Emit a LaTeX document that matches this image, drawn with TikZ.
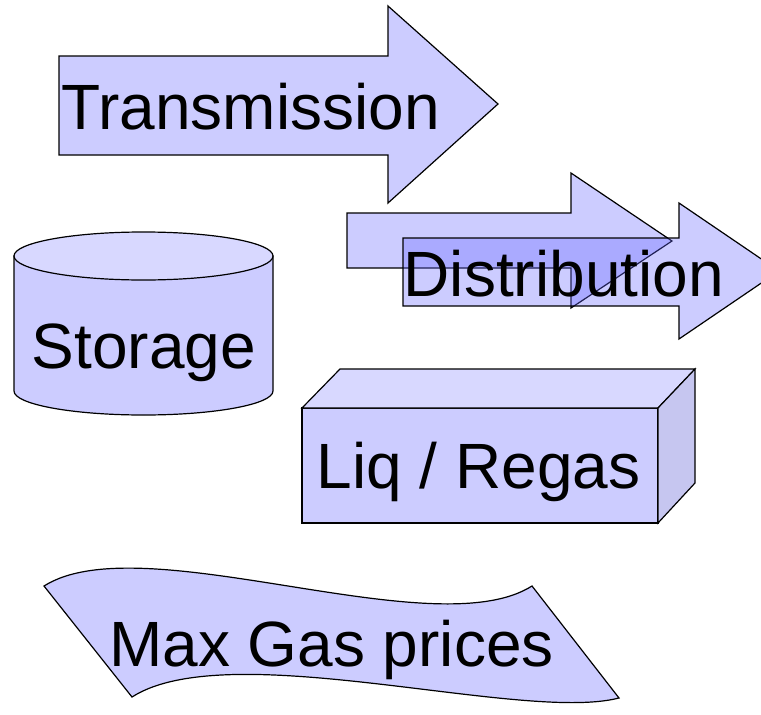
\documentclass[tikz,border=0pt]{standalone}
\usepackage{fontspec}
\setmainfont{Liberation Sans}
\definecolor{shapefill}{RGB}{204,204,255}
\definecolor{toplight}{RGB}{216,216,255}
\definecolor{sidedark}{RGB}{198,198,240}
\definecolor{overfill}{RGB}{102,102,255}
\tikzset{
  shapebox/.style={draw=black, line width=1.2pt, line join=miter, fill=shapefill},
  overbox/.style={draw=black, line width=1.2pt, line join=miter, fill=overfill, fill opacity=0.333},
  label/.style={font=\fontsize{64}{70}\selectfont, anchor=base west, inner sep=0pt, text=black}
}
\begin{document}
\begin{tikzpicture}[x=1pt,y=-1pt]
\useasboundingbox (0,0) rectangle (761,715);
\clip (0,0) rectangle (761,715);
% Transmission arrow
\draw[shapebox] (59,56) -- (388,56) -- (388,6) -- (498,104) -- (388,203) -- (388,155) -- (59,155) -- cycle;
\node[label] (trans) at (61.5,129) {Transmission};
% Distribution arrows
\draw[shapebox] (347,213) -- (571,213) -- (571,173) -- (672,241) -- (571,308) -- (571,268) -- (347,268) -- cycle;
\draw[overbox] (403,238) -- (679,238) -- (679,203) -- (779,271) -- (679,339) -- (679,306) -- (403,306) -- cycle;
\node[label] (dist) at (403.5,296) {Distribution};
% Storage cylinder
\draw[shapebox] (14,256) -- (14,391) arc[start angle=180, end angle=0, x radius=129.5, y radius=24] -- (273,256) -- cycle;
\draw[shapebox, fill=toplight] (143.5,256) ellipse[x radius=129.5, y radius=24];
\node[label] (stor) at (31.5,368) {Storage};
% Liq / Regas box
\draw[shapebox] (302,408) rectangle (658,523);
\draw[shapebox, fill=toplight] (302,408) -- (340,369) -- (695,369) -- (658,408) -- cycle;
\draw[shapebox, fill=sidedark] (658,408) -- (695,369) -- (695,483) -- (658,523) -- cycle;
\node[label] (liq) at (316.5,488) {Liq / Regas};
% Max Gas prices wave
\draw[shapebox] (44,586) .. controls (142,524) and (434,648) .. (532,586) -- (619,698) .. controls (522,723) and (229,635) .. (132,697) -- cycle;
\node[label] (maxgas) at (109,666) {Max Gas prices};
\end{tikzpicture}
\end{document}
